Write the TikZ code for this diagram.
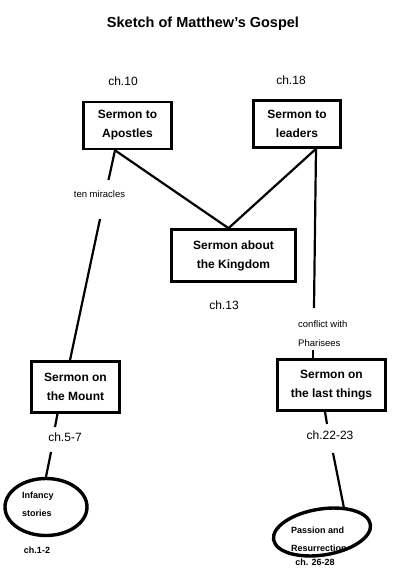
\documentclass[tikz,border=0pt]{standalone}
\usepackage{fontspec}
\setmainfont{Liberation Sans}
\usetikzlibrary{shapes.geometric}
\begin{document}
\begin{tikzpicture}[x=1pt,y=-1pt,
  sbox/.style={draw,line width=2.6pt,align=center,inner sep=0pt,
    font=\bfseries\fontsize{12}{19}\selectfont},
  oval/.style={draw,ellipse,line width=3.4pt,inner sep=0pt},
  conn/.style={line width=2.2pt},
  chl/.style={font=\fontsize{12}{14}\selectfont,inner sep=0pt},
  chs/.style={font=\bfseries\fontsize{9}{11}\selectfont,inner sep=0pt},
  small/.style={font=\fontsize{9.5}{19}\selectfont,inner sep=0pt,align=left},
  smallb/.style={font=\bfseries\fontsize{9}{18}\selectfont,inner sep=0pt,align=left}]
\useasboundingbox[fill=white] (0,0) rectangle (400,582);

\node[font=\bfseries\fontsize{14.5}{16}\selectfont] (title) at (203,24) {Sketch of Matthew’s Gospel};

% boxes
\node[sbox,minimum width=88pt,minimum height=47pt] (apo) at (127.5,125.5) {Sermon to\\Apostles};
\node[sbox,minimum width=87pt,minimum height=47pt] (lead) at (297,124) {Sermon to\\leaders};
\node[sbox,minimum width=124pt,minimum height=52pt] (king) at (233.5,255.5) {Sermon about\\the Kingdom};
\node[sbox,minimum width=88pt,minimum height=51pt] (mount) at (75.5,387) {Sermon on\\the Mount};
\node[sbox,minimum width=108pt,minimum height=51pt] (last) at (331.5,385) {Sermon on\\the last things};

% ellipses
\node[oval,minimum width=82pt,minimum height=57pt] (inf) at (46,507) {};
\node[smallb,anchor=west] (inft) at (22,504) {Infancy\\stories};
\node[oval,minimum width=98pt,minimum height=46pt,rotate=9] (pas) at (322,532) {};
\node[smallb,anchor=west] (past) at (291,539) {Passion and\\Resurrection};

% chapter labels
\node[chl] (c10) at (123,81) {ch.10};
\node[chl] (c18) at (291,80) {ch.18};
\node[chl] (c13) at (224,305) {ch.13};
\node[chl] (c57) at (65,437) {ch.5-7};
\node[chl] (c2223) at (330,435) {ch.22-23};
\node[chs] (c12) at (37,550) {ch.1-2};
\node[chs] (c2628) at (315,562) {ch. 26-28};

% small labels
\node[small] (tm) at (99.5,194) {ten miracles};
\node[small,anchor=west] (cw) at (298,333.5) {conflict with\\Pharisees};

% gap coordinates
\coordinate (tm1) at (108.5,180);
\coordinate (tm2) at (100,219);
\coordinate (cw1) at (314,308);
\coordinate (cw2) at (313,350);
\coordinate (m1) at (55,427);
\coordinate (m2) at (51,452);
\coordinate (l1) at (327,424);
\coordinate (l2) at (333,453);

% connectors
\draw[conn] ([xshift=-12.5pt]apo.south) -- ([xshift=-5pt]king.north);
\draw[conn] ([xshift=19pt]lead.south) -- ([xshift=-5pt]king.north);
\draw[conn] ([xshift=-12.5pt]apo.south) -- (tm1);
\draw[conn] (tm2) -- ([xshift=-5.5pt]mount.north);
\draw[conn] ([xshift=19pt]lead.south) -- (cw1);
\draw[conn] (cw2) -- ([xshift=-18.5pt]last.north);
\draw[conn] ([xshift=-18pt]mount.south) -- (m1);
\draw[conn] (m2) -- (inf.north);
\draw[conn] ([xshift=-6.5pt]last.south) -- (l1);
\draw[conn] (l2) -- (pas.40);
\end{tikzpicture}
\end{document}
